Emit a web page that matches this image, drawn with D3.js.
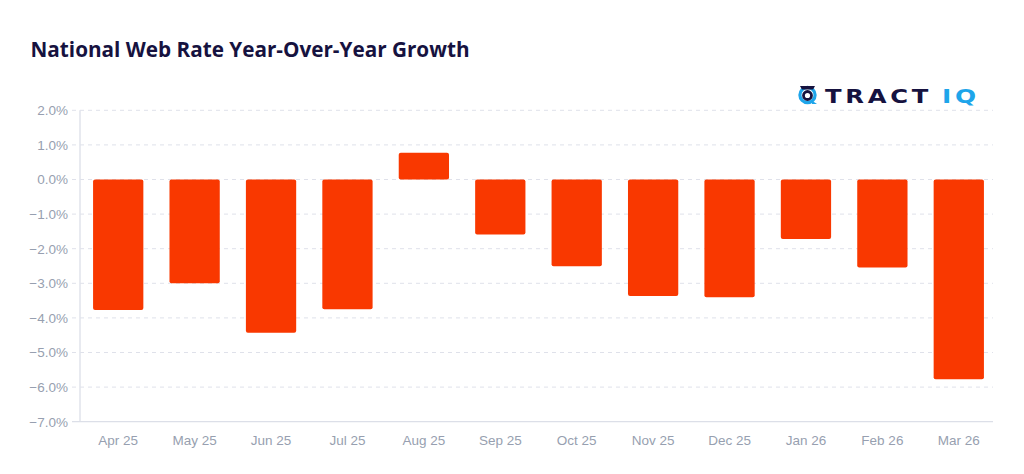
<!DOCTYPE html>
<html>
<head>
<meta charset="utf-8">
<script src="https://cdn.jsdelivr.net/npm/d3@7"></script>
<style>
  html, body { margin: 0; padding: 0; background: #ffffff; }
  svg { display: block; }
</style>
</head>
<body>
<svg id="chart" width="1024" height="474"></svg>
<script>
// ---- data ----
const categories = ["Apr 25","May 25","Jun 25","Jul 25","Aug 25","Sep 25","Oct 25","Nov 25","Dec 25","Jan 26","Feb 26","Mar 26"];
const growth = [-3.77, -3.00, -4.43, -3.75, 0.77, -1.59, -2.51, -3.37, -3.40, -1.72, -2.54, -5.77];
const yTicks = [2, 1, 0, -1, -2, -3, -4, -5, -6, -7];
const titleText = "National Web Rate Year-Over-Year Growth";

// ---- layout ----
const svg = d3.select("#chart");
const plotLeft = 80, plotRight = 993, plotTop = 110.3, plotBottom = 421.7;
const labelFont = "'Liberation Sans', Arial, Helvetica, sans-serif";
const labelColor = "#979fb0";
const gridColor = "#dfe1ea";

const x = d3.scaleBand()
  .domain(categories)
  .range([plotLeft, 997])
  .paddingInner(0.342)
  .paddingOuter(0.171);

const y = d3.scaleLinear()
  .domain([-7, 2])
  .range([plotBottom, plotTop]);

// title
const title = svg.append("text")
  .attr("x", 30.5)
  .attr("y", 56.5)
  .attr("font-family", "'Open Sans', 'Noto Sans', sans-serif")
  .attr("font-weight", 700)
  .attr("font-size", 22)
  .attr("fill", "#16123f")
  .text(titleText);
const tw = title.node().getComputedTextLength();
if (Math.abs(tw - 439) > 2) {
  title.attr("textLength", 439).attr("lengthAdjust", "spacingAndGlyphs");
}

// gridlines (dashed) except bottom
svg.append("g")
  .selectAll("line")
  .data(yTicks.filter(d => d !== -7))
  .join("line")
  .attr("x1", 72)
  .attr("x2", plotRight)
  .attr("y1", d => y(d))
  .attr("y2", d => y(d))
  .attr("stroke", gridColor)
  .attr("stroke-width", 1)
  .attr("stroke-dasharray", "4,4");

// y axis labels via d3 axis
const yAxis = svg.append("g")
  .attr("transform", `translate(${plotLeft},0)`)
  .call(d3.axisLeft(y).tickValues(yTicks).tickSize(0).tickPadding(12)
    .tickFormat(d => d3.format(".1f")(d) + "%"));
yAxis.select(".domain").remove();
yAxis.selectAll("text")
  .attr("font-family", labelFont)
  .attr("font-size", 13.5)
  .attr("fill", labelColor);

// bars
svg.append("g")
  .selectAll("rect")
  .data(categories.map((c, i) => ({ c, v: growth[i] })))
  .join("rect")
  .attr("x", d => x(d.c))
  .attr("width", x.bandwidth())
  .attr("y", d => Math.min(y(d.v), y(0)))
  .attr("height", d => Math.abs(y(d.v) - y(0)))
  .attr("rx", 2)
  .attr("fill", "#f93800");

// axis lines
svg.append("line")
  .attr("x1", plotLeft).attr("x2", plotLeft)
  .attr("y1", plotTop).attr("y2", plotBottom)
  .attr("stroke", "#e1e3eb").attr("stroke-width", 1.5);
svg.append("line")
  .attr("x1", 72).attr("x2", plotRight)
  .attr("y1", y(-7)).attr("y2", y(-7))
  .attr("stroke", "#dcdfe8").attr("stroke-width", 1.2);

// x axis labels via d3 axis
const xAxis = svg.append("g")
  .attr("transform", `translate(0,${plotBottom})`)
  .call(d3.axisBottom(x).tickSize(0).tickPadding(14));
xAxis.select(".domain").remove();
xAxis.selectAll("text")
  .attr("font-family", labelFont)
  .attr("font-size", 13.5)
  .attr("fill", labelColor);

// logo
const logo = svg.append("g");
logo.append("circle")
  .attr("cx", 807.5).attr("cy", 95).attr("r", 7.6)
  .attr("fill", "none").attr("stroke", "#1ea5ea").attr("stroke-width", 3.2);
logo.append("circle")
  .attr("cx", 807.5).attr("cy", 95.5).attr("r", 4.0)
  .attr("fill", "none").attr("stroke", "#16123f").attr("stroke-width", 2.8);
logo.append("path")
  .attr("d", "M800,86 L815,86 L813,89.5 L802,89.5 Z")
  .attr("fill", "#16123f");
logo.append("path")
  .attr("d", "M811,100 L817,104 L812,104 Z")
  .attr("fill", "#1ea5ea");
logo.append("text")
  .attr("x", 825).attr("y", 103.3)
  .attr("font-family", "'DejaVu Sans', sans-serif")
  .attr("font-weight", 700)
  .attr("font-size", 19.5)
  .attr("fill", "#16123f")
  .attr("textLength", 107).attr("lengthAdjust", "spacingAndGlyphs")
  .style("letter-spacing", "3px")
  .text("TRACT");
logo.append("text")
  .attr("x", 942).attr("y", 103.3)
  .attr("font-family", "'DejaVu Sans', sans-serif")
  .attr("font-weight", 700)
  .attr("font-size", 19.5)
  .attr("fill", "#1ea5ea")
  .attr("textLength", 38).attr("lengthAdjust", "spacingAndGlyphs")
  .style("letter-spacing", "3px")
  .text("IQ");
</script>
</body>
</html>
